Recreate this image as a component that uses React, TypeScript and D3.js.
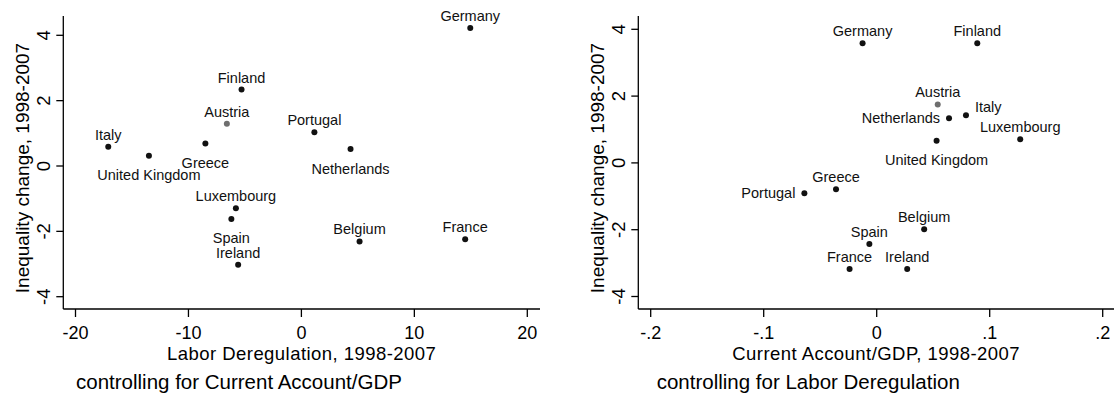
import React from "react";
import * as d3 from "d3";

// Countries, in the same order for both panels
const countries = [
  "Italy", "United Kingdom", "Greece", "Austria", "Finland", "Germany", "Portugal",
  "Netherlands", "Luxembourg", "Spain", "Ireland", "Belgium", "France",
];

// Left panel: labor deregulation vs inequality change (controlling for CA/GDP)
const laborX = [-17.1, -13.5, -8.5, -6.6, -5.3, 14.95, 1.15, 4.35, -5.8, -6.2, -5.6, 5.15, 14.5];
const laborY = [0.59, 0.31, 0.69, 1.29, 2.34, 4.22, 1.03, 0.52, -1.29, -1.62, -3.02, -2.31, -2.24];
const laborLabelPos = ["top", "bottom", "bottom", "top", "top", "top", "top", "bottom", "top", "bottom", "top", "top", "top"];

// Right panel: current account/GDP vs inequality change (controlling for labor deregulation)
const caX = [0.079, 0.053, -0.036, 0.054, 0.089, -0.0125, -0.064, 0.064, 0.127, -0.0065, 0.027, 0.042, -0.024];
const caY = [1.43, 0.66, -0.79, 1.75, 3.58, 3.58, -0.91, 1.34, 0.71, -2.43, -3.18, -1.99, -3.18];
const caLabelPos = ["right", "bottom", "top", "top", "top", "top", "left", "left", "top", "top", "top", "top", "top"];

// Highlighted (grey) marker
const highlight = "Austria";

const yTicks = [-4, -2, 0, 2, 4];
const laborTicks = [-20, -10, 0, 10, 20];
const caTicks = [-0.2, -0.1, 0, 0.1, 0.2];

const FONT = "'Liberation Sans', Arial, Helvetica, sans-serif";

function fmtCA(v: number) {
  if (v === 0) return "0";
  const s = d3.format(".1f")(v);
  return s.replace("0.", ".").replace("−", "-");
}

type PanelProps = {
  xs: number[];
  ys: number[];
  pos: string[];
  xDomain: [number, number];
  xRange: [number, number];
  yRange: [number, number];
  axisLeft: number;
  axisRight: number;
  xTicks: number[];
  xFmt: (v: number) => string;
  xTitle: string;
  subtitle: string;
  subtitleX: number;
  yTitleX: number;
};

function Panel(p: PanelProps) {
  const x = d3.scaleLinear().domain(p.xDomain).range(p.xRange);
  const y = d3.scaleLinear().domain([-4, 4]).range(p.yRange);
  const axisTop = 16;
  const axisBottom = 309;
  const tickLen = 7;
  const cx = (p.axisLeft + p.axisRight) / 2;

  return (
    <g>
      {/* y axis */}
      <line x1={p.axisLeft} x2={p.axisLeft} y1={axisTop} y2={axisBottom} stroke="#000" strokeWidth={1.3} />
      {yTicks.map((t) => (
        <g key={"y" + t}>
          <line x1={p.axisLeft - tickLen} x2={p.axisLeft} y1={y(t)} y2={y(t)} stroke="#000" strokeWidth={1.3} />
          <text
            transform={`translate(${p.axisLeft - 13},${y(t)}) rotate(-90)`}
            textAnchor="middle"
            fontSize={18.5}
            fontFamily={FONT}
            fill="#000"
          >
            {String(t)}
          </text>
        </g>
      ))}
      <text
        transform={`translate(${p.yTitleX},168) rotate(-90)`}
        textAnchor="middle"
        fontSize={19}
        fontFamily={FONT}
        fill="#000"
      >
        Inequality change, 1998-2007
      </text>

      {/* x axis */}
      <line x1={p.axisLeft} x2={p.axisRight} y1={axisBottom} y2={axisBottom} stroke="#000" strokeWidth={1.3} />
      {p.xTicks.map((t) => (
        <g key={"x" + t}>
          <line x1={x(t)} x2={x(t)} y1={axisBottom} y2={axisBottom + tickLen + 1} stroke="#000" strokeWidth={1.3} />
          <text x={x(t)} y={338.5} textAnchor="middle" fontSize={18} fontFamily={FONT} fill="#000">
            {p.xFmt(t)}
          </text>
        </g>
      ))}
      <text
        x={cx}
        y={359.5}
        textAnchor="middle"
        fontSize={18.5}
        letterSpacing={0.45}
        fontFamily={FONT}
        fill="#000"
      >
        {p.xTitle}
      </text>
      <text x={p.subtitleX} y={389} fontSize={20.5} fontFamily={FONT} fill="#000">
        {p.subtitle}
      </text>

      {/* markers and labels */}
      {countries.map((c, i) => {
        const px = x(p.xs[i]);
        const py = y(p.ys[i]);
        const where = p.pos[i];
        let lx = px;
        let ly = py - 7;
        let anchor = "middle";
        if (where === "bottom") ly = py + 24.5;
        else if (where === "left") {
          lx = px - 9;
          ly = py + 5;
          anchor = "end";
        } else if (where === "right") {
          lx = px + 9;
          ly = py - 3;
          anchor = "start";
        }
        return (
          <g key={c}>
            <circle cx={px} cy={py} r={3} fill={c === highlight ? "#6e6e6e" : "#111"} />
            <text x={lx} y={ly} textAnchor={anchor} fontSize={14.5} fontFamily={FONT} fill="#111">
              {c}
            </text>
          </g>
        );
      })}
    </g>
  );
}

export default function App() {
  return (
    <svg
      width={1115}
      height={399}
      style={{ position: "absolute", left: 0, top: 0, background: "#fff" }}
    >
      <rect x={0} y={0} width={1115} height={399} fill="#fff" />
      <Panel
        xs={laborX}
        ys={laborY}
        pos={laborLabelPos}
        xDomain={[-20, 20]}
        xRange={[75.5, 527.3]}
        yRange={[296.7, 35.3]}
        axisLeft={63.3}
        axisRight={540}
        xTicks={laborTicks}
        xFmt={(v) => String(v)}
        xTitle="Labor Deregulation, 1998-2007"
        subtitle="controlling for Current Account/GDP"
        subtitleX={76}
        yTitleX={28.5}
      />
      <Panel
        xs={caX}
        ys={caY}
        pos={caLabelPos}
        xDomain={[-0.2, 0.2]}
        xRange={[650.7, 1102.7]}
        yRange={[296.5, 29.3]}
        axisLeft={638.3}
        axisRight={1114}
        xTicks={caTicks}
        xFmt={fmtCA}
        xTitle="Current Account/GDP, 1998-2007"
        subtitle="controlling for Labor Deregulation"
        subtitleX={656.7}
        yTitleX={603.5}
      />
    </svg>
  );
}
